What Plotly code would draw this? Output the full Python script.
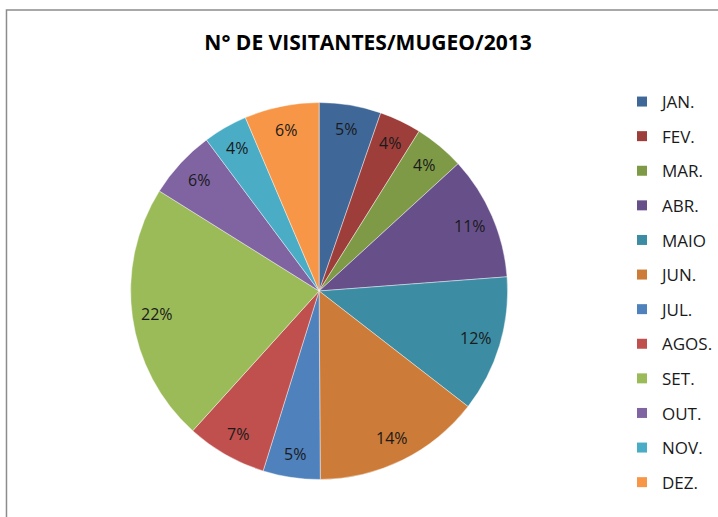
import math
import plotly.graph_objects as go

# ---- data ----
months = ["JAN.", "FEV.", "MAR.", "ABR.", "MAIO", "JUN.", "JUL.", "AGOS.", "SET.", "OUT.", "NOV.", "DEZ."]
shares = [5.3, 3.6, 4.3, 10.6, 11.7, 14.4, 4.9, 6.9, 22.2, 5.9, 3.8, 6.4]
colors = ["#3F6899", "#9D3E3B", "#7F9A47", "#67508A", "#3C8DA3", "#CC7B38",
          "#4F81BD", "#C0504D", "#9BBB59", "#8064A2", "#4BACC6", "#F79646"]
title_text = "N° DE VISITANTES/MUGEO/2013"

W, H = 718, 517
cx, cy, R = 320, 291, 189  # pie centre / radius in pixels

fig = go.Figure()

fig.add_trace(go.Pie(
    labels=months, values=shares, sort=False, direction="clockwise", rotation=0,
    marker=dict(colors=colors, line=dict(color="rgba(255,255,255,0.6)", width=0.7)),
    textinfo="none", hoverinfo="label+percent", showlegend=False,
    domain=dict(x=[(cx - R) / W, (cx + R) / W], y=[1 - (cy + R) / H, 1 - (cy - R) / H]),
))

# percentage labels placed near the rim, derived from the data
total = sum(shares)
cum = 0.0
for v in shares:
    mid = (cum + v / 2) / total * 2 * math.pi
    cum += v
    d = 0.87 * R
    px = cx + d * math.sin(mid)
    py = cy - d * math.cos(mid)
    fig.add_annotation(x=px / W, y=1 - py / H, xref="paper", yref="paper",
                       xanchor="center", yanchor="middle",
                       text=f"{round(v / total * 100):d}%", showarrow=False,
                       font=dict(family="Open Sans", size=16, color="#1a1a1a"))

# legend entries (one per month) with wide spacing like the original
for m, c in zip(months, colors):
    fig.add_trace(go.Scatter(x=[None], y=[None], mode="markers", name=m, legendgroup=m,
                             marker=dict(symbol="square", size=10, color=c),
                             hoverinfo="skip"))

fig.update_layout(
    width=W, height=H,
    margin=dict(l=0, r=0, t=0, b=0),
    paper_bgcolor="white", plot_bgcolor="white",
    xaxis=dict(visible=False), yaxis=dict(visible=False),
    title=dict(text=f"<b>{title_text}</b>", x=368 / W, xanchor="center",
               y=1 - 43 / H, yanchor="middle",
               font=dict(family="Open Sans", size=21, color="#000000")),
    legend=dict(x=624 / W, xanchor="left", y=1 - 84 / H, yanchor="top",
                font=dict(family="Open Sans", size=17, color="#1a1a1a"),
                tracegroupgap=9.5, bgcolor="rgba(0,0,0,0)", itemclick=False),
    shapes=[dict(type="rect", xref="paper", yref="paper",
                 x0=6.5 / W, x1=1.05, y0=-0.05, y1=1 - 10 / H,
                 line=dict(color="#8c8c8c", width=1.5), fillcolor="rgba(0,0,0,0)")],
)

fig.write_html("out.html", config={"displayModeBar": False},
               post_script="document.body.style.margin='0px';")
